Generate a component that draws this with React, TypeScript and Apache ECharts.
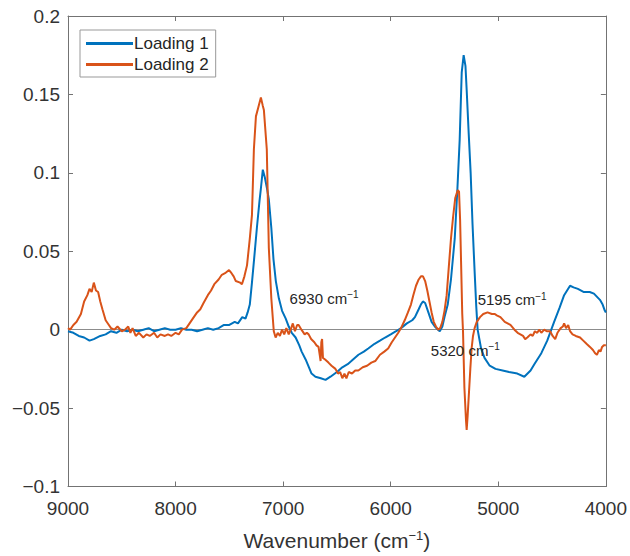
import React, { useEffect, useRef } from "react";
import * as echarts from "echarts";

const xTicks = [9000, 8000, 7000, 6000, 5000, 4000];
const yTickLabels: Record<string, string> = {
  "0.2": "0.2", "0.15": "0.15", "0.1": "0.1", "0.05": "0.05", "0": "0", "-0.05": "\u22120.05", "-0.1": "\u22120.1",
};
const seriesNames = ["Loading 1", "Loading 2"];

const loading1: [number, number][] = [
  [9000, -0.001], [8950, -0.002], [8900, -0.004], [8850, -0.005], [8800, -0.007], [8760, -0.006],
  [8700, -0.004], [8650, -0.003], [8600, -0.001], [8550, -0.002], [8500, 0.0], [8450, -0.001],
  [8400, 0.0], [8350, -0.001], [8300, 0.0], [8250, 0.001], [8200, -0.001], [8150, 0.0],
  [8100, 0.001], [8050, 0.0], [8000, 0.0], [7950, 0.001], [7900, 0.0], [7850, 0.0],
  [7800, -0.001], [7750, 0.0], [7700, 0.001], [7650, 0.0], [7600, 0.001], [7550, 0.003],
  [7500, 0.003], [7450, 0.005], [7420, 0.004], [7380, 0.008], [7350, 0.007], [7330, 0.011],
  [7310, 0.016], [7290, 0.03], [7270, 0.045], [7244, 0.065], [7220, 0.082], [7207, 0.09],
  [7189, 0.102], [7170, 0.097], [7150, 0.09], [7133, 0.083], [7110, 0.065], [7090, 0.045],
  [7068, 0.031], [7040, 0.02], [7010, 0.012], [6976, 0.007], [6948, 0.002], [6920, -0.002],
  [6884, -0.005], [6850, -0.01], [6828, -0.014], [6791, -0.019], [6760, -0.024], [6736, -0.028],
  [6700, -0.03], [6650, -0.031], [6606, -0.032], [6560, -0.03], [6500, -0.027], [6450, -0.024],
  [6400, -0.022], [6366, -0.02], [6300, -0.016], [6250, -0.014], [6209, -0.012], [6150, -0.009],
  [6100, -0.007], [6052, -0.005], [6000, -0.003], [5950, -0.001], [5904, 0.001], [5850, 0.004],
  [5800, 0.006], [5775, 0.008], [5740, 0.013], [5720, 0.016], [5701, 0.018], [5680, 0.017],
  [5650, 0.011], [5620, 0.005], [5590, 0.002], [5560, 0.0], [5544, -0.001], [5520, 0.002],
  [5500, 0.008], [5470, 0.016], [5440, 0.032], [5405, 0.058], [5380, 0.09], [5359, 0.121],
  [5340, 0.164], [5322, 0.175], [5305, 0.168], [5294, 0.153], [5275, 0.125], [5257, 0.1],
  [5240, 0.068], [5220, 0.037], [5205, 0.015], [5192, 0.0], [5160, -0.012], [5128, -0.018],
  [5080, -0.023], [5026, -0.025], [4960, -0.026], [4900, -0.027], [4823, -0.028], [4758, -0.03],
  [4700, -0.026], [4665, -0.022], [4600, -0.015], [4545, -0.007], [4481, 0.005], [4430, 0.014],
  [4388, 0.022], [4333, 0.028], [4300, 0.027], [4260, 0.026], [4204, 0.024], [4150, 0.024],
  [4111, 0.023], [4055, 0.019], [4030, 0.016], [4009, 0.012], [4000, 0.011],
];

const loading2: [number, number][] = [
  [9000, 0.001], [8980, 0.0], [8950, 0.003], [8920, 0.005], [8880, 0.01], [8850, 0.018],
  [8820, 0.022], [8800, 0.026], [8780, 0.024], [8760, 0.03], [8740, 0.025], [8720, 0.024],
  [8700, 0.018], [8680, 0.013], [8650, 0.006], [8620, 0.003], [8600, 0.001], [8570, 0.0],
  [8540, 0.002], [8500, -0.001], [8470, 0.0], [8440, 0.002], [8420, -0.002], [8400, 0.001],
  [8370, -0.004], [8340, -0.002], [8300, -0.005], [8270, -0.003], [8240, -0.004], [8200, -0.002],
  [8170, -0.005], [8140, -0.003], [8100, -0.004], [8070, -0.003], [8040, -0.004], [8000, -0.002],
  [7970, -0.003], [7940, 0.0], [7900, 0.001], [7870, 0.004], [7840, 0.007], [7800, 0.011],
  [7770, 0.013], [7740, 0.017], [7700, 0.022], [7670, 0.025], [7640, 0.029], [7600, 0.032],
  [7570, 0.035], [7540, 0.036], [7503, 0.038], [7480, 0.036], [7460, 0.034], [7440, 0.031],
  [7400, 0.03], [7383, 0.029], [7360, 0.034], [7336, 0.041], [7310, 0.058], [7290, 0.073],
  [7272, 0.115], [7253, 0.136], [7230, 0.142], [7207, 0.148], [7190, 0.143], [7179, 0.14],
  [7152, 0.115], [7133, 0.052], [7110, 0.02], [7087, -0.001], [7070, -0.005], [7050, -0.002],
  [7030, -0.004], [7010, 0.0], [6990, -0.003], [6970, 0.001], [6948, -0.003], [6930, 0.0],
  [6910, 0.004], [6890, -0.001], [6870, 0.003], [6856, 0.003], [6830, 0.0], [6800, -0.003],
  [6780, -0.002], [6763, -0.003], [6740, -0.006], [6710, -0.008], [6690, -0.01], [6671, -0.011],
  [6660, -0.016], [6652, -0.02], [6645, -0.008], [6638, -0.006], [6630, -0.018], [6610, -0.019],
  [6579, -0.021], [6550, -0.023], [6514, -0.025], [6490, -0.028], [6470, -0.027], [6450, -0.031],
  [6430, -0.028], [6412, -0.031], [6390, -0.027], [6360, -0.028], [6330, -0.026], [6301, -0.026],
  [6260, -0.024], [6220, -0.023], [6180, -0.021], [6144, -0.02], [6100, -0.016], [6060, -0.014],
  [6024, -0.012], [5990, -0.008], [5960, -0.005], [5930, -0.002], [5904, 0.001], [5870, 0.006],
  [5840, 0.011], [5812, 0.016], [5790, 0.022], [5765, 0.028], [5740, 0.032], [5719, 0.034],
  [5700, 0.034], [5680, 0.031], [5660, 0.025], [5640, 0.018], [5620, 0.011], [5600, 0.005],
  [5580, 0.002], [5560, 0.0], [5540, 0.001], [5520, 0.005], [5500, 0.012], [5480, 0.022],
  [5460, 0.04], [5440, 0.058], [5420, 0.072], [5400, 0.084], [5377, 0.089], [5365, 0.088],
  [5355, 0.07], [5345, 0.04], [5335, 0.01], [5328, -0.001], [5315, -0.037], [5300, -0.058],
  [5294, -0.064], [5285, -0.055], [5270, -0.037], [5260, -0.025], [5248, -0.012], [5235, -0.004],
  [5220, 0.001], [5200, 0.005], [5170, 0.008], [5140, 0.01], [5100, 0.011], [5060, 0.01],
  [5035, 0.01], [5010, 0.009], [4980, 0.008], [4940, 0.005], [4887, 0.003], [4850, 0.0],
  [4820, -0.002], [4795, -0.003], [4770, -0.004], [4750, -0.006], [4730, -0.005], [4700, -0.003],
  [4680, -0.004], [4660, -0.001], [4638, -0.002], [4620, 0.0], [4600, -0.002], [4573, 0.0],
  [4550, -0.001], [4518, -0.001], [4495, -0.004], [4471, -0.006], [4450, -0.002], [4420, 0.001],
  [4400, 0.002], [4388, 0.004], [4370, 0.001], [4350, 0.003], [4333, -0.001], [4310, -0.003],
  [4280, -0.004], [4240, -0.005], [4210, -0.007], [4180, -0.009], [4148, -0.011], [4120, -0.013],
  [4100, -0.015], [4083, -0.016], [4065, -0.013], [4050, -0.014], [4035, -0.011], [4019, -0.01],
  [4000, -0.01],
];

const annotations: { text: string; wn: number; val: number }[] = [
  { text: "6930 cm", wn: 6940, val: 0.02 },
  { text: "5195 cm", wn: 5192, val: 0.019 },
  { text: "5320 cm", wn: 5627, val: -0.013 },
];

const FONT = "'Liberation Sans', Arial, Helvetica, sans-serif";
const AXIS_COLOR = "#737373";
const TEXT_COLOR = "#333333";

export default function App() {
  const ref = useRef<HTMLDivElement>(null);
  useEffect(() => {
    if (!ref.current) return;
    const chart = echarts.init(ref.current, undefined, { renderer: "svg" });
    const axisCommon = {
      axisLine: { show: true, onZero: false, lineStyle: { color: AXIS_COLOR, width: 1 } },
      axisTick: { show: true, inside: true, length: 5, lineStyle: { color: AXIS_COLOR } },
      splitLine: { show: false },
    };
    const option: any = {
      animation: false,
      backgroundColor: "#ffffff",
      textStyle: { fontFamily: FONT },
      grid: { left: 68, right: 21, top: 16, bottom: 67, containLabel: false },
      legend: {
        data: seriesNames,
        orient: "vertical",
        left: 80,
        top: 30,
        padding: [5, 7, 4, 6],
        itemGap: 4,
        itemWidth: 47,
        itemHeight: 3,
        icon: "rect",
        borderColor: "#999999",
        borderWidth: 1,
        backgroundColor: "#ffffff",
        textStyle: { fontSize: 17, color: "#262626", fontFamily: FONT, padding: [0, 0, 0, -4] },
      },
      xAxis: [
        {
          type: "value",
          min: 4000,
          max: 9000,
          interval: 1000,
          inverse: true,
          position: "bottom",
          ...axisCommon,
          axisLabel: {
            fontSize: 19,
            color: TEXT_COLOR,
            margin: 12,
            fontFamily: FONT,
            formatter: (v: number) => (xTicks.includes(v) ? String(v) : ""),
          },
          name: "{n|Wavenumber (cm}{s|\u22121}{n|)}",
          nameLocation: "middle",
          nameGap: 42,
          nameTextStyle: {
            rich: {
              n: { fontSize: 21, color: TEXT_COLOR, fontFamily: FONT, lineHeight: 24 },
              s: { fontSize: 13, color: TEXT_COLOR, fontFamily: FONT, verticalAlign: "top", lineHeight: 14 },
            },
          },
        },
        {
          type: "value",
          min: 4000,
          max: 9000,
          interval: 1000,
          inverse: true,
          position: "top",
          ...axisCommon,
          axisLabel: { show: false },
        },
      ],
      yAxis: [
        {
          type: "value",
          min: -0.1,
          max: 0.2,
          interval: 0.05,
          position: "left",
          ...axisCommon,
          axisLabel: {
            fontSize: 19,
            color: TEXT_COLOR,
            margin: 8,
            fontFamily: FONT,
            formatter: (v: number) => {
              const key = String(Math.round(v * 100) / 100);
              return yTickLabels[key] ?? key;
            },
          },
        },
        {
          type: "value",
          min: -0.1,
          max: 0.2,
          interval: 0.05,
          position: "right",
          ...axisCommon,
          axisLabel: { show: false },
        },
      ],
      series: [
        {
          name: seriesNames[0],
          type: "line",
          data: loading1,
          showSymbol: false,
          symbol: "none",
          lineStyle: { color: "#0072BD", width: 2 },
          itemStyle: { color: "#0072BD" },
          z: 3,
          markLine: {
            silent: true,
            symbol: ["none", "none"],
            label: { show: false },
            lineStyle: { color: "#8c8c8c", width: 1, type: "solid" },
            data: [{ yAxis: 0 }],
            z: 1,
          },
        },
        {
          name: seriesNames[1],
          type: "line",
          data: loading2,
          showSymbol: false,
          symbol: "none",
          lineStyle: { color: "#D95319", width: 2 },
          itemStyle: { color: "#D95319" },
          z: 4,
        },
      ],
    };
    chart.setOption(option);
    const graphics = annotations.map((a) => {
      const p = chart.convertToPixel({ xAxisIndex: 0, yAxisIndex: 0 }, [a.wn, a.val]) as number[];
      return {
        type: "text",
        x: p[0],
        y: p[1],
        z: 10,
        style: {
          text: `{n|${a.text}}{s|\u22121}`,
          verticalAlign: "middle",
          align: "left",
          rich: {
            n: { fontSize: 15, fill: "#262626", fontFamily: FONT, lineHeight: 17 },
            s: { fontSize: 10, fill: "#262626", fontFamily: FONT, verticalAlign: "top", lineHeight: 10 },
          },
        },
      };
    });
    chart.setOption({ graphic: graphics });
    return () => chart.dispose();
  }, []);
  return (
    <div
      ref={ref}
      style={{ position: "absolute", left: 0, top: 0, width: 630, height: 556 }}
    />
  );
}
